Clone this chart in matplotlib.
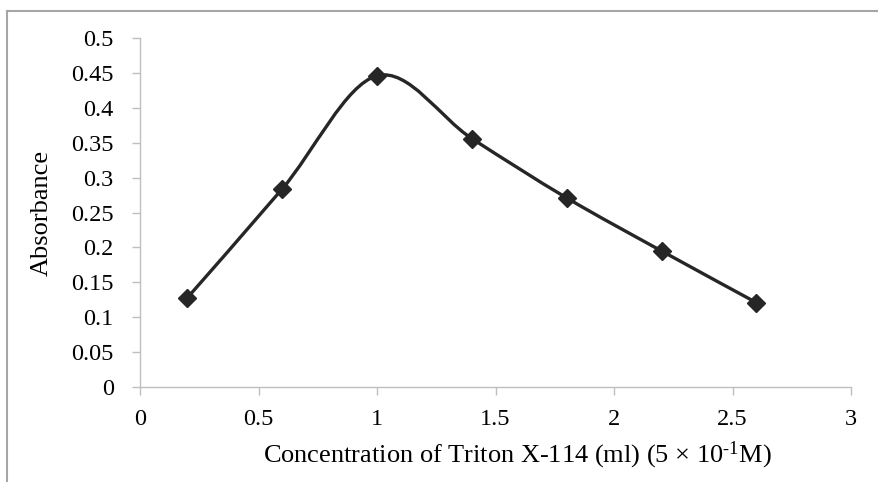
import matplotlib
matplotlib.use("Agg")
import matplotlib.pyplot as plt
from matplotlib.path import Path
from matplotlib.patches import PathPatch
from matplotlib.lines import Line2D

plt.rcParams['font.family'] = ['Liberation Serif', 'DejaVu Serif']
plt.rcParams['mathtext.fontset'] = 'custom'
plt.rcParams['mathtext.rm'] = 'Liberation Serif'
plt.rcParams['mathtext.it'] = 'Liberation Serif:italic'

# data
concentration = [0.2, 0.6, 1.0, 1.4, 1.8, 2.2, 2.6]
absorbance = [0.128, 0.284, 0.446, 0.356, 0.271, 0.195, 0.121]

xticks = [0, 0.5, 1, 1.5, 2, 2.5, 3]
yticks = [0, 0.05, 0.1, 0.15, 0.2, 0.25, 0.3, 0.35, 0.4, 0.45, 0.5]

line_col = '#262626'
axis_col = '#bfbfbf'

fig = plt.figure(figsize=(8.79, 4.82), dpi=100)
ax = fig.add_axes([0.1593, 0.197, 0.809, 0.724])

# smooth curve like Excel: bezier segments with catmull-rom style control points
pts = list(zip(concentration, absorbance))
verts = [pts[0]]
codes = [Path.MOVETO]
for i in range(len(pts) - 1):
    p0 = pts[i - 1] if i > 0 else pts[i]
    p1 = pts[i]
    p2 = pts[i + 1]
    p3 = pts[i + 2] if i + 2 < len(pts) else pts[i + 1]
    c1 = (p1[0] + (p2[0] - p0[0]) / 6, p1[1] + (p2[1] - p0[1]) / 6)
    c2 = (p2[0] - (p3[0] - p1[0]) / 6, p2[1] - (p3[1] - p1[1]) / 6)
    verts += [c1, c2, p2]
    codes += [Path.CURVE4] * 3
ax.add_patch(PathPatch(Path(verts, codes), facecolor='none', edgecolor=line_col,
                       lw=2.4, capstyle='round', joinstyle='round', zorder=2))
ax.plot(concentration, absorbance, ls='none', marker='D', ms=9,
        color=line_col, zorder=3)

ax.set_xlim(0, 3)
ax.set_ylim(0, 0.5)
ax.set_xticks(xticks)
ax.set_xticklabels(['0', '0.5', '1', '1.5', '2', '2.5', '3'])
ax.set_yticks(yticks)
ax.set_yticklabels(['0', '0.05', '0.1', '0.15', '0.2', '0.25', '0.3', '0.35',
                    '0.4', '0.45', '0.5'])

for s in ['top', 'right']:
    ax.spines[s].set_visible(False)
for s in ['left', 'bottom']:
    ax.spines[s].set_color(axis_col)
    ax.spines[s].set_linewidth(1.0)
ax.tick_params(axis='both', colors=axis_col, labelcolor='black', length=6,
               width=1.0, labelsize=17.5)
ax.tick_params(axis='x', pad=10)
ax.tick_params(axis='y', pad=13)

ax.set_ylabel('Absorbance', fontsize=19)
ax.yaxis.set_label_coords(-0.138, 0.5)
ax.yaxis.label.set_va('center')
ax.set_xlabel(r'Concentration of Triton X-114 (ml) (5 × 10$^{\text{-}1}$M)', fontsize=19)
ax.xaxis.set_label_coords(0.53, -0.195)
ax.xaxis.label.set_va('center')

# gray frame (top and left edges only)
fig.add_artist(Line2D([0.008, 1.0], [0.977, 0.977], transform=fig.transFigure,
                      color='#a6a6a6', lw=1.5))
fig.add_artist(Line2D([0.008, 0.008], [0.0, 0.977], transform=fig.transFigure,
                      color='#a6a6a6', lw=1.5))

fig.savefig('out.png', dpi=100)
